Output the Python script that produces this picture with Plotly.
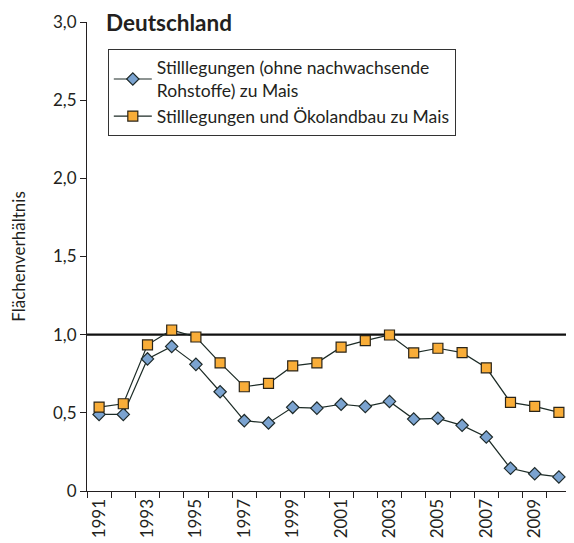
import plotly.graph_objects as go

years = [str(y) for y in range(1991, 2011)]
stilllegungen = [0.49, 0.49, 0.845, 0.925, 0.81, 0.635, 0.45, 0.435, 0.535, 0.53,
                 0.555, 0.54, 0.573, 0.46, 0.465, 0.42, 0.345, 0.145, 0.11, 0.09]
oeko = [0.537, 0.558, 0.935, 1.03, 0.985, 0.82, 0.667, 0.688, 0.80, 0.82,
        0.92, 0.962, 0.998, 0.883, 0.913, 0.885, 0.788, 0.567, 0.541, 0.503]
tick_labels = [y if int(y) % 2 == 1 else "" for y in years]
name1 = "Stilllegungen (ohne nachwachsende<br>Rohstoffe) zu Mais"
name2 = "Stilllegungen und Ökolandbau zu Mais"

font_family = "Lato, Open Sans, sans-serif"
line_col = "#1c2b26"
text_col = "#231f20"

fig = go.Figure()
fig.add_trace(go.Scatter(
    x=years, y=stilllegungen, name=name1, mode="lines+markers",
    line=dict(color=line_col, width=1.2),
    marker=dict(symbol="diamond", size=9.5, color="#7ba3d0",
                line=dict(color="#1e2a2a", width=1.2)),
))
fig.add_trace(go.Scatter(
    x=years, y=oeko, name=name2, mode="lines+markers",
    line=dict(color=line_col, width=1.2),
    marker=dict(symbol="square", size=10, color="#f9ad38",
                line=dict(color="#2a2418", width=1.2)),
))

fig.add_shape(type="line", xref="paper", yref="y", x0=0, x1=1, y0=1.0, y1=1.0,
              line=dict(color="#111111", width=2.4), layer="below")

fig.update_layout(
    width=566, height=535,
    margin=dict(l=79, r=3, t=12, b=52),
    paper_bgcolor="white", plot_bgcolor="white",
    separators=",.",
    font=dict(family=font_family, size=17, color=text_col),
    showlegend=True,
    legend=dict(
        x=0.043, y=0.943, xanchor="left", yanchor="top",
        bgcolor="white", bordercolor="#333333", borderwidth=1,
        font=dict(size=17.5, family=font_family),
        tracegroupgap=4, itemwidth=38,
    ),
    annotations=[dict(
        text="<b>Deutschland</b>", xref="paper", yref="paper",
        x=0.036, y=1.0, xanchor="left", yanchor="middle",
        showarrow=False, font=dict(size=22.5, family=font_family, color=text_col),
    )],
    xaxis=dict(
        type="category", tickvals=years, ticktext=tick_labels,
        tickson="boundaries", ticks="outside", ticklen=6, tickcolor=text_col,
        showline=True, linecolor=text_col, linewidth=1.2,
        showgrid=False, tickangle=-90, tickfont=dict(size=17),
        range=[-0.5, 19.5],
    ),
    yaxis=dict(
        range=[0, 3.0], tickvals=[0, 0.5, 1.0, 1.5, 2.0, 2.5, 3.0],
        ticktext=["0", "0,5", "1,0", "1,5", "2,0", "2,5", "3,0"],
        ticks="outside", ticklen=6, tickcolor=text_col,
        showline=True, linecolor=text_col, linewidth=1.2,
        showgrid=False, zeroline=False, tickfont=dict(size=17),
        title=dict(text="Flächenverhältnis", font=dict(size=17), standoff=24),
    ),
)

fig.write_html("out.html")
